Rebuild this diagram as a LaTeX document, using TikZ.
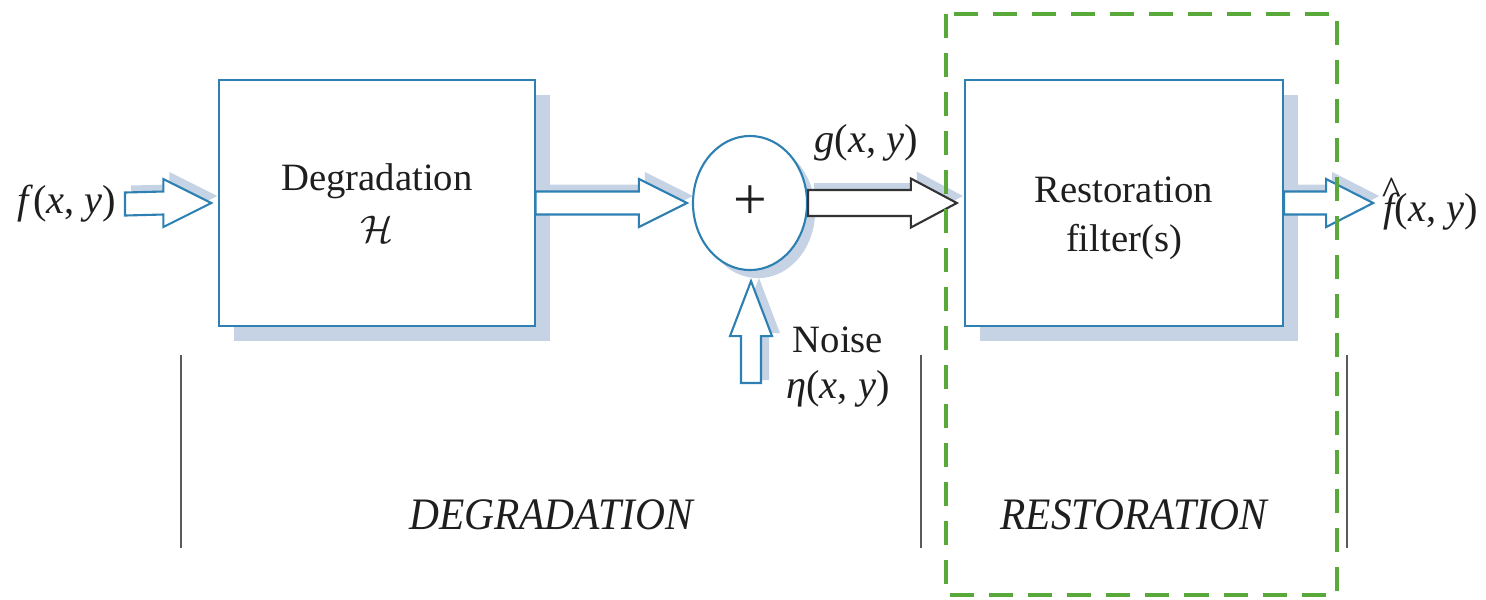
\documentclass[tikz,border=0pt]{standalone}
\usepackage{fontspec}
\setmainfont{Liberation Serif}
\newfontfamily\capsit[FakeStretch=0.92]{Liberation Serif}
\usetikzlibrary{shapes.geometric,calc,shadows}
\definecolor{boxblue}{HTML}{2E80B2}
\definecolor{shade}{HTML}{C6D3E5}
\definecolor{dgreen}{HTML}{58A83A}
\definecolor{rulegray}{HTML}{5A5A5A}
\definecolor{ink}{HTML}{1E1E1E}
\definecolor{garrow}{HTML}{333333}
% horizontal fat arrow: #1 start, #2 tip, #3 offset, #4 shaft half, #5 head half, #6 head length
\newcommand\harrowpath[6]{($(#1)+(#3)+(0,-#4)$) -- ($(#2)+(#3)+(-#6,-#4)$) -- ($(#2)+(#3)+(-#6,-#5)$) -- ($(#2)+(#3)$) -- ($(#2)+(#3)+(-#6,#5)$) -- ($(#2)+(#3)+(-#6,#4)$) -- ($(#1)+(#3)+(0,#4)$) -- cycle}
% upward fat arrow: #1 bottom, #2 tip
\newcommand\varrowpath[6]{($(#1)+(#3)+(-#4,0)$) -- ($(#2)+(#3)+(-#4,#6)$) -- ($(#2)+(#3)+(-#5,#6)$) -- ($(#2)+(#3)$) -- ($(#2)+(#3)+(#5,#6)$) -- ($(#2)+(#3)+(#4,#6)$) -- ($(#1)+(#3)+(#4,0)$) -- cycle}
\newcommand\hatf{{\itshape f\llap{\raisebox{0.42em}{\^{}}\hspace{-0.1em}}}}
\begin{document}
\begin{tikzpicture}[x=0.01cm,y=-0.01cm,
  every node/.style={font=\fontsize{11}{14}\selectfont, text=ink, inner sep=0pt},
  blockbox/.style={draw=boxblue, line width=0.6pt, fill=white, rectangle,
     minimum height=2.45cm, align=center,
     drop shadow={shadow xshift=4.25pt, shadow yshift=-4.25pt, fill=shade, opacity=1}},
  sumnode/.style={draw=boxblue, line width=0.6pt, fill=white, ellipse,
     minimum width=1.14cm, minimum height=1.34cm, font=\fontsize{17}{20}\selectfont,
     drop shadow={shadow xshift=2.3pt, shadow yshift=-2.3pt, fill=shade, opacity=1}},
  fatarrow/.style={draw=boxblue, line width=0.6pt, fill=white, line join=miter},
  darkarrow/.style={draw=garrow, line width=0.6pt, fill=white, line join=miter},
  arrowshade/.style={fill=shade},
  mathlbl/.style={font=\fontsize{11.5}{14}\selectfont},
  sectlbl/.style={font=\capsit\itshape\fontsize{12.8}{15}\selectfont},
  divider/.style={draw=rulegray, line width=0.6pt},
  restframe/.style={draw=dgreen, line width=1.4pt, dash pattern=on 0.24cm off 0.15cm}
]
\useasboundingbox (0,0) rectangle (1486,599);

% blocks
\node[blockbox, minimum width=3.15cm] (deg) at (377,203) {Degradation\\[1pt]$\mathcal{H}$};
\node[sumnode] (sum) at (750,203) {+};
\node[blockbox, minimum width=3.18cm] (rest) at (1124,203) {\rule{0pt}{16pt}Restoration\\filter(s)};

% labels
\node[mathlbl, anchor=east] (fxy) at (117,204) {\textit{f}(\textit{x}, \textit{y})};
\node[mathlbl] (glab) at (866,143) {\textit{g}(\textit{x}, \textit{y})};
\node (noise) at (838,340) {Noise};
\node[mathlbl] (eta) at (838,389) {\textit{η}(\textit{x}, \textit{y})};
\node[mathlbl, anchor=west] (fhat) at (1383,204) {\hatf(\textit{x}, \textit{y})};

% connector end points
\coordinate (inS) at ($(fxy.east)+(8,0)$);
\coordinate (inT) at ($(deg.west)+(-7,0)$);
\coordinate (d2sT) at ($(sum.west)+(-5,0)$);
\coordinate (gT) at ($(rest.west)+(-7,0)$);
\coordinate (outT) at ($(rest.east)+(89,0)$);
\coordinate (nzS) at (751,383);
\coordinate (nzT) at ($(sum.south)+(1,10)$);

% arrow shadows
\fill[arrowshade] \harrowpath{inS}{inT}{6,-7}{11.5}{24}{48};
\fill[arrowshade] \harrowpath{deg.east}{d2sT}{6,-7}{11.5}{24}{48};
\fill[arrowshade] \harrowpath{sum.east}{gT}{6,-7}{13}{24.5}{46};
\fill[arrowshade] \harrowpath{rest.east}{outT}{6,-7}{11.5}{24}{47};
\fill[arrowshade] \varrowpath{nzS}{nzT}{8,-3}{10}{21}{55};

% arrows
\filldraw[fatarrow] \harrowpath{inS}{inT}{0,0}{11.5}{24}{48};
\filldraw[fatarrow] \harrowpath{deg.east}{d2sT}{0,0}{11.5}{24}{48};
\filldraw[darkarrow] \harrowpath{sum.east}{gT}{0,0}{13}{24.5}{46};
\filldraw[fatarrow] \harrowpath{rest.east}{outT}{0,0}{11.5}{24}{47};
\filldraw[fatarrow] \varrowpath{nzS}{nzT}{0,0}{10}{21}{55};

% dividers
\draw[divider] (181,355) coordinate (dvA) -- (181,548) coordinate (dvAb);
\draw[divider] (921,355) coordinate (dvB) -- (921,548) coordinate (dvBb);
\draw[divider] (1347,355) coordinate (dvC) -- (1347,548) coordinate (dvCb);

% section labels
\node[sectlbl] (degsec) at (551,515) {DEGRADATION};
\node[sectlbl] (ressec) at (1134,515) {RESTORATION};

% restoration frame
\draw[restframe] (946,14) rectangle (1337,595);
\end{tikzpicture}
\end{document}
